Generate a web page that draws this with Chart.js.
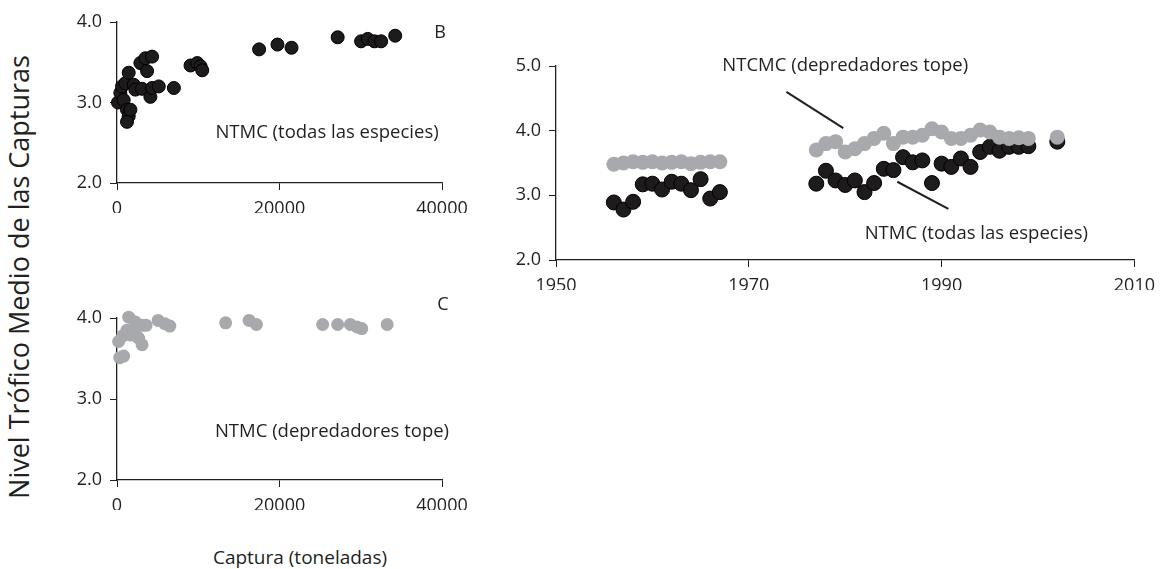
<!DOCTYPE html>
<html>
<head>
<meta charset="utf-8">
<script src="https://cdn.jsdelivr.net/npm/chart.js@4.4.1/dist/chart.umd.min.js"></script>
<style>
  body { margin: 0; background: #fff; width: 1163px; height: 569px; position: relative; overflow: hidden; font-family: "Open Sans", sans-serif; color: #231f20; }
  canvas { position: absolute; }
  #ytitle { position: absolute; left: 18px; top: 277px; transform: translate(-50%, -50%) rotate(-90deg); font-size: 27px; white-space: nowrap; }
  #xtitle { position: absolute; left: 300px; top: 557px; transform: translate(-50%, -50%); font-size: 19px; white-space: nowrap; }
</style>
</head>
<body>
<canvas id="panelB" width="440" height="240" style="left:40px;top:0px"></canvas>
<canvas id="panelC" width="440" height="240" style="left:40px;top:290px"></canvas>
<canvas id="panelA" width="683" height="290" style="left:480px;top:40px"></canvas>
<div id="ytitle">Nivel Trófico Medio de las Capturas</div>
<div id="xtitle">Captura (toneladas)</div>
<script>
// panel A: time series
const yearsEarly = [1956, 1957, 1958, 1959, 1960, 1961, 1962, 1963, 1964, 1965, 1966, 1967];
const ntmcEarly  = [2.89, 2.78, 2.90, 3.17, 3.18, 3.09, 3.21, 3.18, 3.08, 3.25, 2.95, 3.05];
const topEarly   = [3.48, 3.50, 3.52, 3.51, 3.52, 3.50, 3.51, 3.52, 3.49, 3.51, 3.52, 3.52];
const yearsLate  = [1977, 1978, 1979, 1980, 1981, 1982, 1983, 1984, 1985, 1986, 1987, 1988,
                    1989, 1990, 1991, 1992, 1993, 1994, 1995, 1996, 1997, 1998, 1999, 2002];
const ntmcLate   = [3.18, 3.38, 3.23, 3.16, 3.23, 3.05, 3.19, 3.41, 3.39, 3.59, 3.51, 3.54,
                    3.19, 3.49, 3.44, 3.57, 3.44, 3.67, 3.75, 3.69, 3.75, 3.75, 3.76, 3.83];
const topLate    = [3.70, 3.80, 3.83, 3.67, 3.72, 3.80, 3.88, 3.96, 3.80, 3.90, 3.90, 3.93,
                    4.03, 3.98, 3.88, 3.88, 3.93, 4.01, 3.98, 3.90, 3.88, 3.89, 3.88, 3.90];

// panel B: catch vs NTMC (all species)
const catchB = [120, 410, 620, 820, 1030, 1440, 1230, 1440, 1230, 1650, 2060, 2260, 3090, 2880, 3500, 4320,
                3700, 4110, 4320, 5140, 7000, 9050, 9880, 10290, 10490, 17490, 19750, 21480, 27160,
                30040, 30860, 31690, 32510, 34240];
const ntmcB  = [3.00, 3.12, 3.20, 3.03, 3.24, 3.37, 2.91, 2.83, 2.76, 2.91, 3.22, 3.16, 3.17, 3.49, 3.55, 3.57,
                3.39, 3.07, 3.18, 3.20, 3.18, 3.46, 3.49, 3.45, 3.40, 3.66, 3.72, 3.68, 3.81,
                3.76, 3.79, 3.76, 3.76, 3.83];

// panel C: catch vs NTMC (top predators)
const catchC = [330, 820, 200, 700, 1440, 1230, 2060, 2260, 2670, 3090, 3090, 3580, 2470, 1650,
                5060, 5880, 6500, 13370, 16260, 17160, 25310, 27160, 28720, 29550, 30120, 33250];
const topC   = [3.51, 3.53, 3.71, 3.78, 4.01, 3.85, 3.83, 3.95, 3.75, 3.91, 3.67, 3.91, 3.77, 3.79,
                3.97, 3.93, 3.90, 3.94, 3.97, 3.92, 3.92, 3.92, 3.92, 3.89, 3.87, 3.92];

const xTicksA = [1950, 1970, 1990, 2010];
const yTicksA = [2, 3, 4, 5];
const xTicksBC = [0, 20000, 40000];
const yTicksBC = [2, 3, 4];

const ink = "#231f20";
const grey = "#a7a9ac";
const FONT = '"Open Sans", sans-serif';

function pts(xs, ys) {
    return xs.map((x, i) => ({ x: x, y: ys[i] }));
}

function dark(data, r) {
    return { data: data, backgroundColor: "#1e1b1c", borderColor: "#000", borderWidth: 1, pointRadius: r, pointHoverRadius: r, clip: false, order: 2 };
}
function light(data, r) {
    return { data: data, backgroundColor: grey, borderColor: grey, borderWidth: 0, pointRadius: r, pointHoverRadius: r, clip: false, order: 1 };
}

function axis(min, max, ticks, fmt, isY, size) {
    return {
        type: "linear",
        min: min,
        max: max,
        afterBuildTicks: s => { s.ticks = ticks.map(v => ({ value: v })); },
        afterFit: s => { if (isY) s.width = size; else s.height = size; },
        grid: { display: true, drawOnChartArea: false, drawTicks: true, tickLength: 7, color: ink, lineWidth: 1 },
        border: { display: true, color: ink, width: 1.3 },
        ticks: { color: ink, font: { family: FONT, size: 18 }, padding: isY ? 8 : 8, maxRotation: 0, autoSkip: false, callback: fmt }
    };
}

// labels and leader lines, placed in data units
const notes = {
    id: "notes",
    afterDatasetsDraw(chart, args, opts) {
        const ctx = chart.ctx, x = chart.scales.x, y = chart.scales.y;
        ctx.save();
        ctx.strokeStyle = ink;
        ctx.lineWidth = 2;
        (opts.lines || []).forEach(l => {
            ctx.beginPath();
            ctx.moveTo(x.getPixelForValue(l[0]), y.getPixelForValue(l[1]));
            ctx.lineTo(x.getPixelForValue(l[2]), y.getPixelForValue(l[3]));
            ctx.stroke();
        });
        ctx.fillStyle = ink;
        ctx.textAlign = "center";
        ctx.textBaseline = "middle";
        (opts.texts || []).forEach(t => {
            ctx.font = t.size + "px " + FONT;
            ctx.fillText(t.text, x.getPixelForValue(t.x), y.getPixelForValue(t.y));
        });
        ctx.restore();
    }
};

const fmtY = v => Number(v).toFixed(1);
const fmtX = v => String(v);

function makeChart(id, datasets, xs, ys, pad, note) {
    return new Chart(document.getElementById(id), {
        type: "scatter",
        data: { datasets: datasets },
        options: {
            responsive: false,
            animation: false,
            events: [],
            layout: { padding: pad },
            scales: { x: xs, y: ys },
            plugins: { legend: { display: false }, tooltip: { enabled: false }, notes: note }
        },
        plugins: [notes]
    });
}

makeChart("panelB",
    [dark(pts(catchB, ntmcB), 6.5)],
    axis(0, 40000, xTicksBC, fmtX, false, 30),
    axis(2, 4, yTicksBC, fmtY, true, 77),
    { left: 0, top: 22, right: 38, bottom: 27 },
    { texts: [
        { text: "B", x: 39750, y: 3.86, size: 18 },
        { text: "NTMC (todas las especies)", x: 25850, y: 2.63, size: 18.5 }
    ] });

makeChart("panelC",
    [light(pts(catchC, topC), 6.5)],
    axis(0, 40000, xTicksBC, fmtX, false, 30),
    axis(2, 4, yTicksBC, fmtY, true, 77),
    { left: 0, top: 28, right: 38, bottom: 20 },
    { texts: [
        { text: "C", x: 40120, y: 4.16, size: 18 },
        { text: "NTMC (depredadores tope)", x: 26460, y: 2.59, size: 18.5 }
    ] });

makeChart("panelA",
    [
        dark(pts(yearsEarly, ntmcEarly), 7.5),
        dark(pts(yearsLate, ntmcLate), 7.5),
        light(pts(yearsEarly, topEarly), 7.5),
        light(pts(yearsLate, topLate), 7.5)
    ],
    axis(1950, 2010, xTicksA, fmtX, false, 30),
    axis(2, 5, yTicksA, fmtY, true, 76),
    { left: 0, top: 26, right: 24, bottom: 40 },
    {
        lines: [[1973.9, 4.60, 1979.8, 4.04], [1985.4, 3.21, 1990.7, 2.79]],
        texts: [
            { text: "A", x: 2003.6, y: 5.5, size: 18 },
            { text: "NTCMC (depredadores tope)", x: 1980.0, y: 5.01, size: 18.5 },
            { text: "NTMC (todas las especies)", x: 1993.6, y: 2.41, size: 18.5 }
        ]
    });
</script>
</body>
</html>
